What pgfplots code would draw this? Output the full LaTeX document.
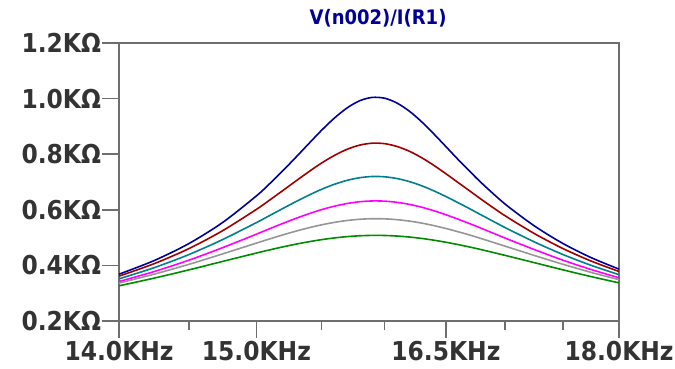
\documentclass[border=0pt]{standalone}
\usepackage{pgfplots}
\pgfplotsset{compat=1.18}
\usepackage{fontspec}
\setmainfont{DejaVu Sans Condensed}
\definecolor{cnavy}{RGB}{0,0,150}
\definecolor{cred}{RGB}{160,0,0}
\definecolor{cteal}{RGB}{0,128,140}
\definecolor{cmag}{RGB}{255,0,255}
\definecolor{cgray}{RGB}{150,150,150}
\definecolor{cgreen}{RGB}{0,140,0}
\definecolor{frame}{RGB}{110,110,110}
\pgfplotstableread{
f blue red teal mag gray green
14.0 0.3684 0.3614 0.3516 0.3420 0.3365 0.3266
14.25 0.4176 0.4064 0.3919 0.3780 0.3686 0.3543
14.5 0.4786 0.4604 0.4390 0.4188 0.4038 0.3839
14.75 0.5549 0.5253 0.4933 0.4641 0.4416 0.4145
15.0 0.6499 0.6014 0.5538 0.5123 0.4801 0.4444
15.1 0.6933 0.6346 0.5791 0.5317 0.4951 0.4557
15.2 0.7397 0.6687 0.6043 0.5507 0.5095 0.4664
15.3 0.7882 0.7030 0.6290 0.5688 0.5230 0.4762
15.4 0.8375 0.7366 0.6523 0.5855 0.5352 0.4850
15.5 0.8857 0.7680 0.6736 0.6005 0.5459 0.4926
15.6 0.9298 0.7955 0.6917 0.6129 0.5547 0.4988
15.7 0.9665 0.8176 0.7059 0.6226 0.5615 0.5035
15.8 0.9923 0.8327 0.7154 0.6290 0.5659 0.5066
15.9 1.0043 0.8396 0.7198 0.6318 0.5679 0.5079
16.0 1.0013 0.8379 0.7187 0.6311 0.5674 0.5076
16.1 0.9839 0.8278 0.7124 0.6269 0.5645 0.5056
16.2 0.9545 0.8105 0.7014 0.6195 0.5593 0.5020
16.3 0.9164 0.7873 0.6864 0.6093 0.5522 0.4970
16.4 0.8731 0.7599 0.6682 0.5967 0.5432 0.4907
16.5 0.8275 0.7299 0.6478 0.5823 0.5328 0.4833
16.6 0.7818 0.6986 0.6259 0.5665 0.5213 0.4750
16.7 0.7376 0.6672 0.6032 0.5498 0.5089 0.4659
16.8 0.6956 0.6363 0.5804 0.5327 0.4959 0.4563
17.0 0.6202 0.5782 0.5358 0.4982 0.4690 0.4359
17.25 0.5419 0.5144 0.4844 0.4568 0.4356 0.4097
17.5 0.4789 0.4606 0.4392 0.4189 0.4040 0.3840
17.75 0.4280 0.4157 0.4002 0.3852 0.3749 0.3597
18.0 0.3865 0.3781 0.3666 0.3555 0.3487 0.3372
}\data
\begin{document}
\begin{tikzpicture}
\begin{axis}[
  name=ax,
  scale only axis,
  width=500bp, height=278bp,
  xmode=log,
  xmin=14, xmax=18, ymin=0.2, ymax=1.2,
  xtick={14,15,16.5,18},
  xticklabels={14.0KHz,15.0KHz,16.5KHz,18.0KHz},
  extra x ticks={14.5,15.5,16,17,17.5},
  extra x tick labels={},
  extra x tick style={major tick length=9bp},
  ytick={0.2,0.4,0.6,0.8,1.0,1.2},
  yticklabels={0.2KΩ,0.4KΩ,0.6KΩ,0.8KΩ,1.0KΩ,1.2KΩ},
  minor tick num=0,
  tick pos=left,
  tick align=outside,
  major tick length=17bp,
  tick style={draw=frame, line width=1.5bp},
  axis line style={draw=frame, line width=1.5bp},
  ticklabel style={font=\bfseries\fontsize{26bp}{29bp}\selectfont, text=black!80},
  yticklabel style={xshift=2bp},
  title={V(n002)/I(R1)},
  title style={font=\bfseries\fontsize{20bp}{23bp}\selectfont, text=cnavy, at={(0.5,1)}, anchor=base, yshift=13bp, xshift=9bp},
  clip=true,
]
\addplot[cgreen, line width=1.6bp, smooth] table[x=f,y=green] {\data};
\addplot[cgray, line width=1.6bp, smooth] table[x=f,y=gray] {\data};
\addplot[cmag, line width=1.6bp, smooth] table[x=f,y=mag] {\data};
\addplot[cteal, line width=1.6bp, smooth] table[x=f,y=teal] {\data};
\addplot[cred, line width=1.6bp, smooth] table[x=f,y=red] {\data};
\addplot[cnavy, line width=1.6bp, smooth] table[x=f,y=blue] {\data};
\end{axis}
\pgfresetboundingbox
\path (ax.south west) ++(-119bp,-48bp) rectangle ++(675bp,369bp);
\end{tikzpicture}
\end{document}
